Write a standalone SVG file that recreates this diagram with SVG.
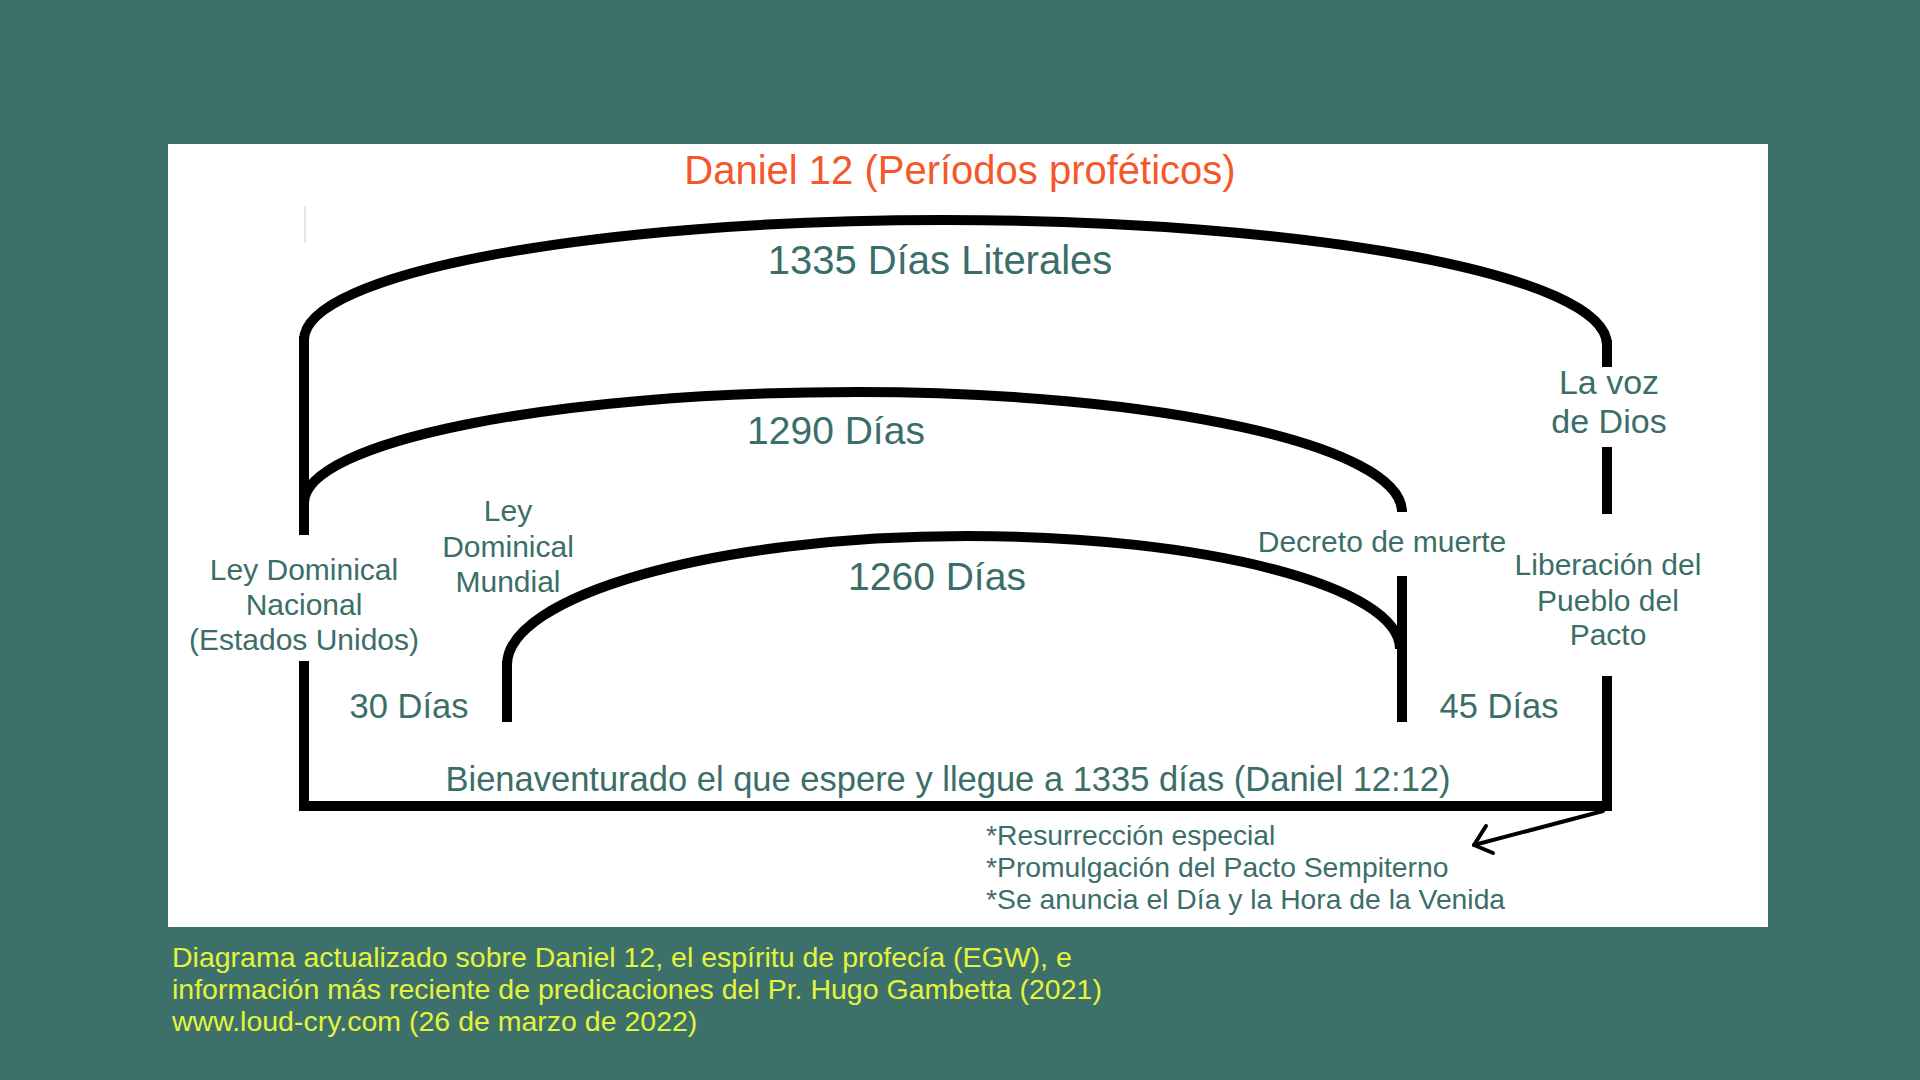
<svg xmlns="http://www.w3.org/2000/svg" width="1920" height="1080" viewBox="0 0 1920 1080">
<style>
.bg{fill:#3d706b}
.panel{fill:#ffffff}
.ln{fill:none;stroke:#000;stroke-width:10}
.thin{fill:none;stroke:#000;stroke-width:4;stroke-linecap:round;stroke-linejoin:round}
text{font-family:"Liberation Sans",Arial,sans-serif;fill:#3b6e69}
.c{text-anchor:middle}
.t30{font-size:30px}
.t34{font-size:34.5px}
.t39{font-size:39px}
.title{font-size:40px;fill:#f5572a}
.note{font-size:28.3px}
.foot{font-size:28.5px;fill:#e4f43c}
</style>
<rect class="bg" x="0" y="0" width="1920" height="1080"/>
<rect class="panel" x="168" y="144" width="1600" height="783"/>
<line x1="305" y1="206" x2="305" y2="243" stroke="#dddddd" stroke-width="1.5"/>

<g id="title"><text class="title c" x="960" y="184">Daniel 12 (Períodos proféticos)</text></g>

<g id="connectors">
  <path class="ln" d="M304,340 C304,273.7 590,220 943,220 C1309,220 1607,275 1607,345"/>
  <line class="ln" x1="304" y1="336" x2="304" y2="535"/>
  <line class="ln" x1="304" y1="661" x2="304" y2="811"/>
  <line class="ln" x1="1607" y1="340" x2="1607" y2="367"/>
  <line class="ln" x1="1607" y1="447" x2="1607" y2="514"/>
  <line class="ln" x1="1607" y1="676" x2="1607" y2="811"/>
  <line class="ln" x1="299" y1="806" x2="1612" y2="806"/>
  <path class="ln" d="M304,503 C304,441.7 551.6,392 857,392 C1158,392 1402,445.7 1402,512"/>
  <line class="ln" x1="1402" y1="576" x2="1402" y2="722"/>
  <path class="ln" d="M507,665 C507,595.9 713,536 967,536 C1206,536 1400,586.6 1400,649"/>
  <line class="ln" x1="507" y1="661" x2="507" y2="722"/>
  <line class="thin" x1="1603" y1="811" x2="1474" y2="845"/>
  <polyline class="thin" points="1486,826 1474,845 1493,853"/>
</g>

<g id="label-1335"><text class="c" x="940" y="274" style="font-size:40px">1335 Días Literales</text></g>
<g id="label-1290"><text class="t39 c" x="836" y="444">1290 Días</text></g>
<g id="label-1260"><text class="t39 c" x="937" y="590">1260 Días</text></g>
<g id="node-voz">
  <text class="c" x="1609" y="394" style="font-size:34px">La voz</text>
  <text class="c" x="1609" y="433" style="font-size:34px">de Dios</text>
</g>
<g id="node-ley-mundial">
  <text class="t30 c" x="508" y="521">Ley</text>
  <text class="t30 c" x="508" y="557">Dominical</text>
  <text class="t30 c" x="508" y="592">Mundial</text>
</g>
<g id="node-ley-nacional">
  <text class="t30 c" x="304" y="580">Ley Dominical</text>
  <text class="t30 c" x="304" y="615">Nacional</text>
  <text class="t30 c" x="304" y="650">(Estados Unidos)</text>
</g>
<g id="node-decreto"><text class="t30 c" x="1382" y="552">Decreto de muerte</text></g>
<g id="node-liberacion">
  <text class="t30 c" x="1608" y="575">Liberación del</text>
  <text class="t30 c" x="1608" y="611">Pueblo del</text>
  <text class="t30 c" x="1608" y="645">Pacto</text>
</g>
<g id="label-30"><text class="t34 c" x="409" y="718">30 Días</text></g>
<g id="label-45"><text class="t34 c" x="1499" y="718">45 Días</text></g>
<g id="label-bienaventurado"><text class="t34 c" x="948" y="791">Bienaventurado el que espere y llegue a 1335 días (Daniel 12:12)</text></g>
<g id="node-notes">
  <text class="note" x="986" y="845">*Resurrección especial</text>
  <text class="note" x="986" y="877">*Promulgación del Pacto Sempiterno</text>
  <text class="note" x="986" y="909">*Se anuncia el Día y la Hora de la Venida</text>
</g>
<g id="footer">
  <text class="foot" x="172" y="967">Diagrama actualizado sobre Daniel 12, el espíritu de profecía (EGW), e</text>
  <text class="foot" x="172" y="999">información más reciente de predicaciones del Pr. Hugo Gambetta (2021)</text>
  <text class="foot" x="172" y="1031">www.loud-cry.com (26 de marzo de 2022)</text>
</g>
</svg>
